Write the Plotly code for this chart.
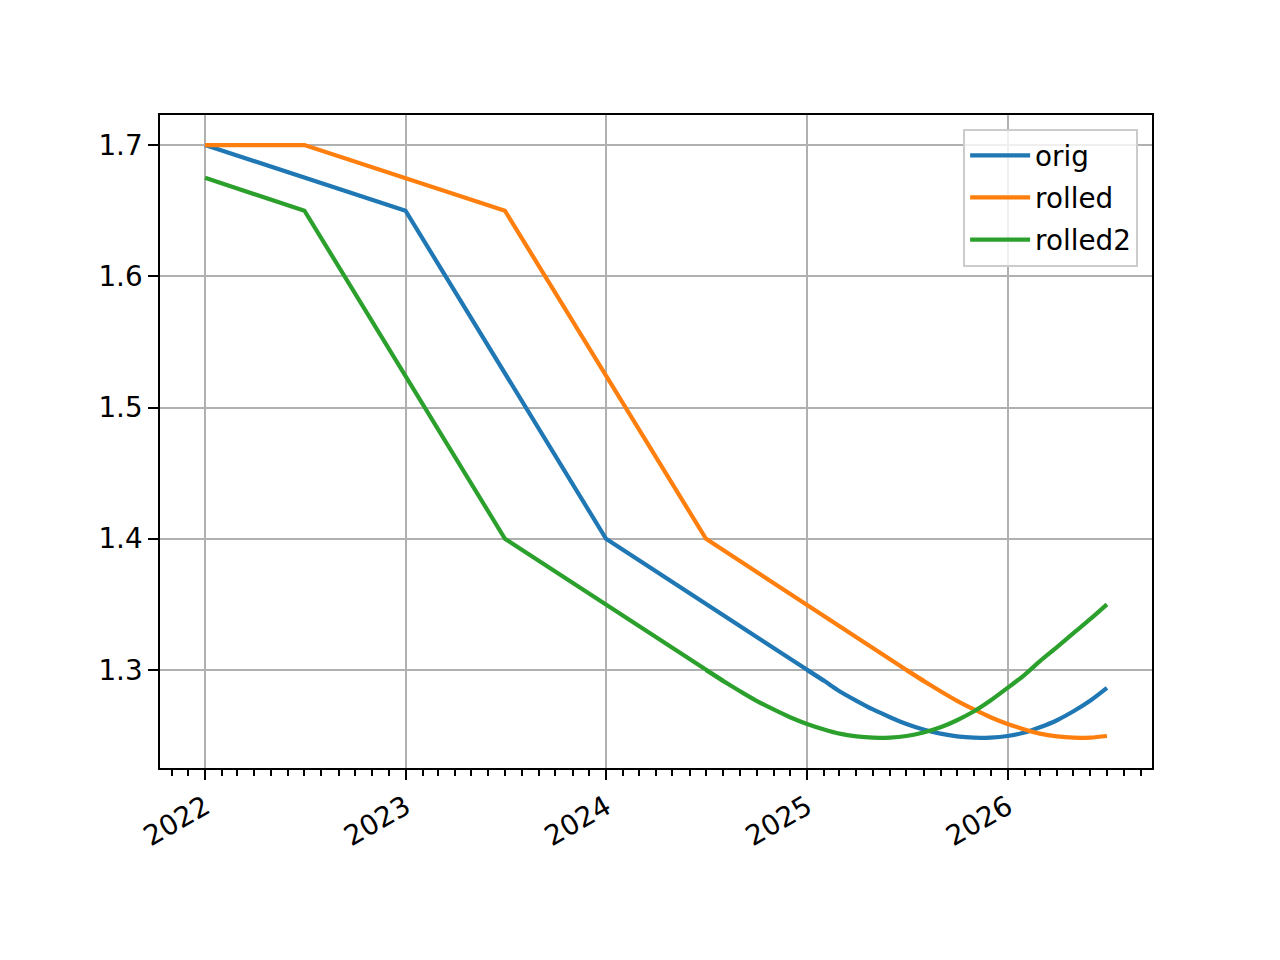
import pandas as pd
import plotly.graph_objects as go

# ---- data -------------------------------------------------------------
# "orig": straight segments between yearly knots, then a smooth monthly curve
orig_knot_dates = ["2022-01-01", "2023-01-01", "2024-01-01"]
orig_knot_vals = [1.7, 1.65, 1.4]
orig_curve_dates = [d.strftime("%Y-%m-%d") for d in pd.date_range("2025-01-01", "2026-07-01", freq="MS")]
orig_curve_vals = [1.3, 1.2917, 1.2838, 1.2765, 1.2699, 1.2640, 1.2589, 1.2547, 1.2515, 1.2494,
                   1.2484, 1.2485, 1.2497, 1.2523, 1.2563, 1.2617, 1.2685, 1.2767, 1.2863]

# "rolled": shifted six months later
rolled_knot_dates = ["2022-01-01", "2022-07-01", "2023-07-01", "2024-07-01"]
rolled_knot_vals = [1.7, 1.7, 1.65, 1.4]
rolled_curve_dates = [d.strftime("%Y-%m-%d") for d in pd.date_range("2025-07-01", "2026-07-01", freq="MS")]
rolled_curve_vals = [1.3, 1.2917, 1.2838, 1.2765, 1.2699, 1.2640, 1.2589, 1.2547, 1.2515, 1.2494,
                     1.2484, 1.2485, 1.2497]

# "rolled2": shifted six months earlier
rolled2_knot_dates = ["2022-01-01", "2022-07-01", "2023-07-01"]
rolled2_knot_vals = [1.675, 1.65, 1.4]
rolled2_curve_dates = [d.strftime("%Y-%m-%d") for d in pd.date_range("2024-07-01", "2026-07-01", freq="MS")]
rolled2_curve_vals = [1.3, 1.2917, 1.2838, 1.2765, 1.2699, 1.2640, 1.2589, 1.2547, 1.2515, 1.2494,
                      1.2484, 1.2485, 1.2497, 1.2523, 1.2563, 1.2617, 1.2685, 1.2767, 1.2863,
                      1.2963, 1.3067, 1.3174, 1.3281, 1.3389, 1.35]

series_names = ["orig", "rolled", "rolled2"]
colors = ["#1f77b4", "#ff7f0e", "#2ca02c"]

series = [
    (orig_knot_dates, orig_knot_vals, orig_curve_dates, orig_curve_vals),
    (rolled_knot_dates, rolled_knot_vals, rolled_curve_dates, rolled_curve_vals),
    (rolled2_knot_dates, rolled2_knot_vals, rolled2_curve_dates, rolled2_curve_vals),
]

# ---- figure -----------------------------------------------------------
FONT = "DejaVu Sans"
FS = 27.8
LW = 4.2
fig = go.Figure()
for name, (kx, ky, cx, cy), col in zip(series_names, series, colors):
    # straight part (joined to the first point of the curve)
    fig.add_trace(go.Scatter(x=kx + cx[:2], y=ky + cy[:2], mode="lines", name=name,
                             legendgroup=name, line=dict(color=col, width=LW)))
    # smooth curved part
    fig.add_trace(go.Scatter(x=cx, y=cy, mode="lines", name=name, legendgroup=name,
                             showlegend=False,
                             line=dict(color=col, width=LW, shape="spline", smoothing=0.8)))

# page body has an 8px margin, so the figure is sized to fit the 1280x960 window
fig.update_layout(
    width=1264, height=944,
    margin=dict(l=152, r=120, t=107, b=184),
    paper_bgcolor="white", plot_bgcolor="white",
    font=dict(family=FONT, size=FS, color="black"),
    showlegend=True,
    legend=dict(x=0.986, xanchor="right", y=0.979, yanchor="top",
                bgcolor="rgba(255,255,255,0.8)", bordercolor="#cccccc", borderwidth=2,
                itemwidth=60, tracegroupgap=3, entrywidth=180, entrywidthmode="pixels",
                font=dict(family=FONT, size=FS, color="black")),
)
fig.update_xaxes(
    type="date",
    range=["2021-10-11", "2026-09-21"],
    tick0="2022-01-01", dtick="M12", tickformat="%Y", tickangle=-30,
    ticks="outside", ticklen=9.7, tickwidth=2.2, tickcolor="black",
    showgrid=True, gridcolor="#b0b0b0", gridwidth=2.2,
    showline=True, mirror=True, linecolor="black", linewidth=2.2,
    zeroline=False,
    minor=dict(dtick="M1", tick0="2022-01-01", ticks="outside", ticklen=5.6, tickwidth=1.7,
               tickcolor="black", showgrid=False),
    tickfont=dict(family=FONT, size=FS, color="black"),
)
fig.update_yaxes(
    range=[1.2253, 1.7229],
    tick0=1.3, dtick=0.1, tickformat=".1f",
    ticks="outside", ticklen=9.7, tickwidth=2.2, tickcolor="black",
    showgrid=True, gridcolor="#b0b0b0", gridwidth=2.2,
    showline=True, mirror=True, linecolor="black", linewidth=2.2,
    zeroline=False,
    tickfont=dict(family=FONT, size=FS, color="black"),
)

fig.write_html("out.html")
